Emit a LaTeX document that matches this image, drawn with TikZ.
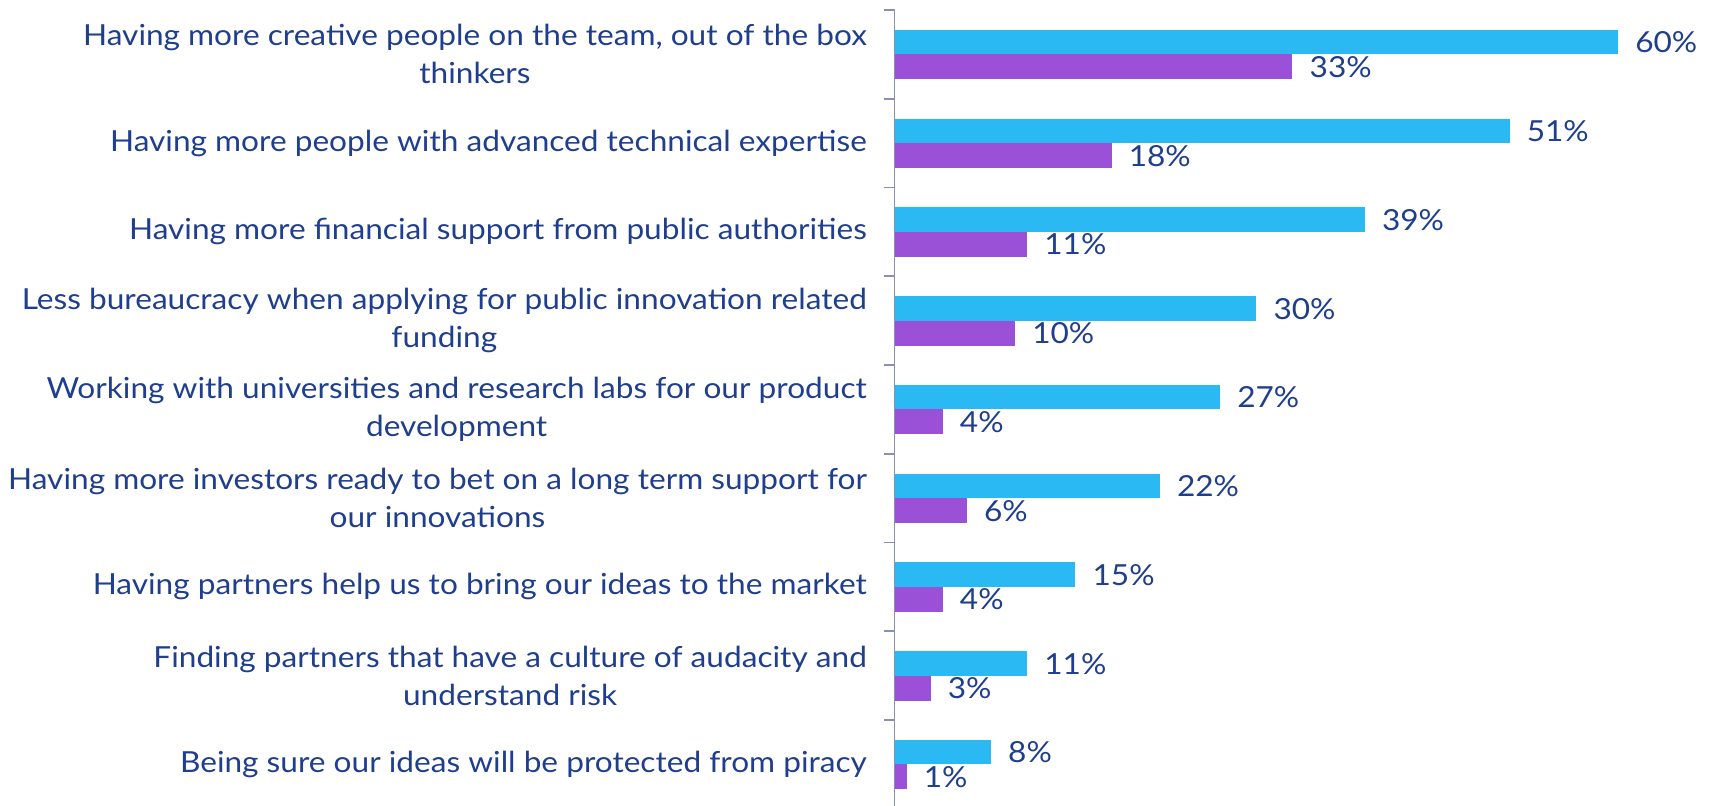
\documentclass[tikz,border=0pt]{standalone}
\usepackage{fontspec}
\setmainfont{Lato}[FakeStretch=1.09]
\definecolor{barblue}{HTML}{2BB9F4}
\definecolor{barpurple}{HTML}{9B51D7}
\definecolor{txt}{HTML}{1F3E8E}
\definecolor{axisc}{HTML}{8A90B5}
\begin{document}
\begin{tikzpicture}[x=1pt,y=-1pt,
  lbl/.style={text=txt,font=\fontsize{29}{38}\selectfont,align=center,anchor=east,inner sep=0pt},
  val/.style={text=txt,font=\fontsize{29}{35}\selectfont,anchor=west,inner sep=0pt},
  bluebar/.style={fill=barblue,draw=none},
  purplebar/.style={fill=barpurple,draw=none},
  axisline/.style={draw=axisc,line width=1.8pt}]
\useasboundingbox (0,0) rectangle (1709,806);
\def\ax{894.5}
\def\sc{12.06}
\foreach \i/\b/\p/\t in {
  0/60/33/{Having more creative people on the team, out of the box\\thinkers},
  1/51/18/{Having more people with advanced technical expertise},
  2/39/11/{Having more financial support from public authorities},
  3/30/10/{Less bureaucracy when applying for public innovation related\\funding},
  4/27/4/{Working with universities and research labs for our product\\development},
  5/22/6/{Having more investors ready to bet on a long term support for\\our innovations},
  6/15/4/{Having partners help us to bring our ideas to the market},
  7/11/3/{Finding partners that have a culture of audacity and\\understand risk},
  8/8/1/{Being sure our ideas will be protected from piracy}}{
  \pgfmathsetmacro{\c}{54.4+88.75*\i}
  \pgfmathsetmacro{\eb}{\ax+\sc*\b}
  \pgfmathsetmacro{\ep}{\ax+\sc*\p}
  \node[lbl] (cat\i) at (867,\c) {\t};
  \path[bluebar] (\ax,\c-24.5) rectangle (\eb,\c);
  \path[purplebar] (\ax,\c) rectangle (\ep,\c+25);
  \coordinate (bend\i) at (\eb,\c-12);
  \coordinate (pend\i) at (\ep,\c+12.5);
  \node[val] (bv\i) at ([xshift=17pt]bend\i) {\b\%};
  \node[val] (pv\i) at ([xshift=17pt]pend\i) {\p\%};
}
\coordinate (atop) at (\ax,10);
\coordinate (abot) at (\ax,806);
\draw[axisline] (atop) -- (abot);
\foreach \k in {0,...,8}{
  \pgfmathsetmacro{\ty}{10+88.75*\k}
  \coordinate (t\k) at (\ax,\ty);
  \draw[axisline] (t\k) -- ++(-11,0);
}
\end{tikzpicture}
\end{document}
